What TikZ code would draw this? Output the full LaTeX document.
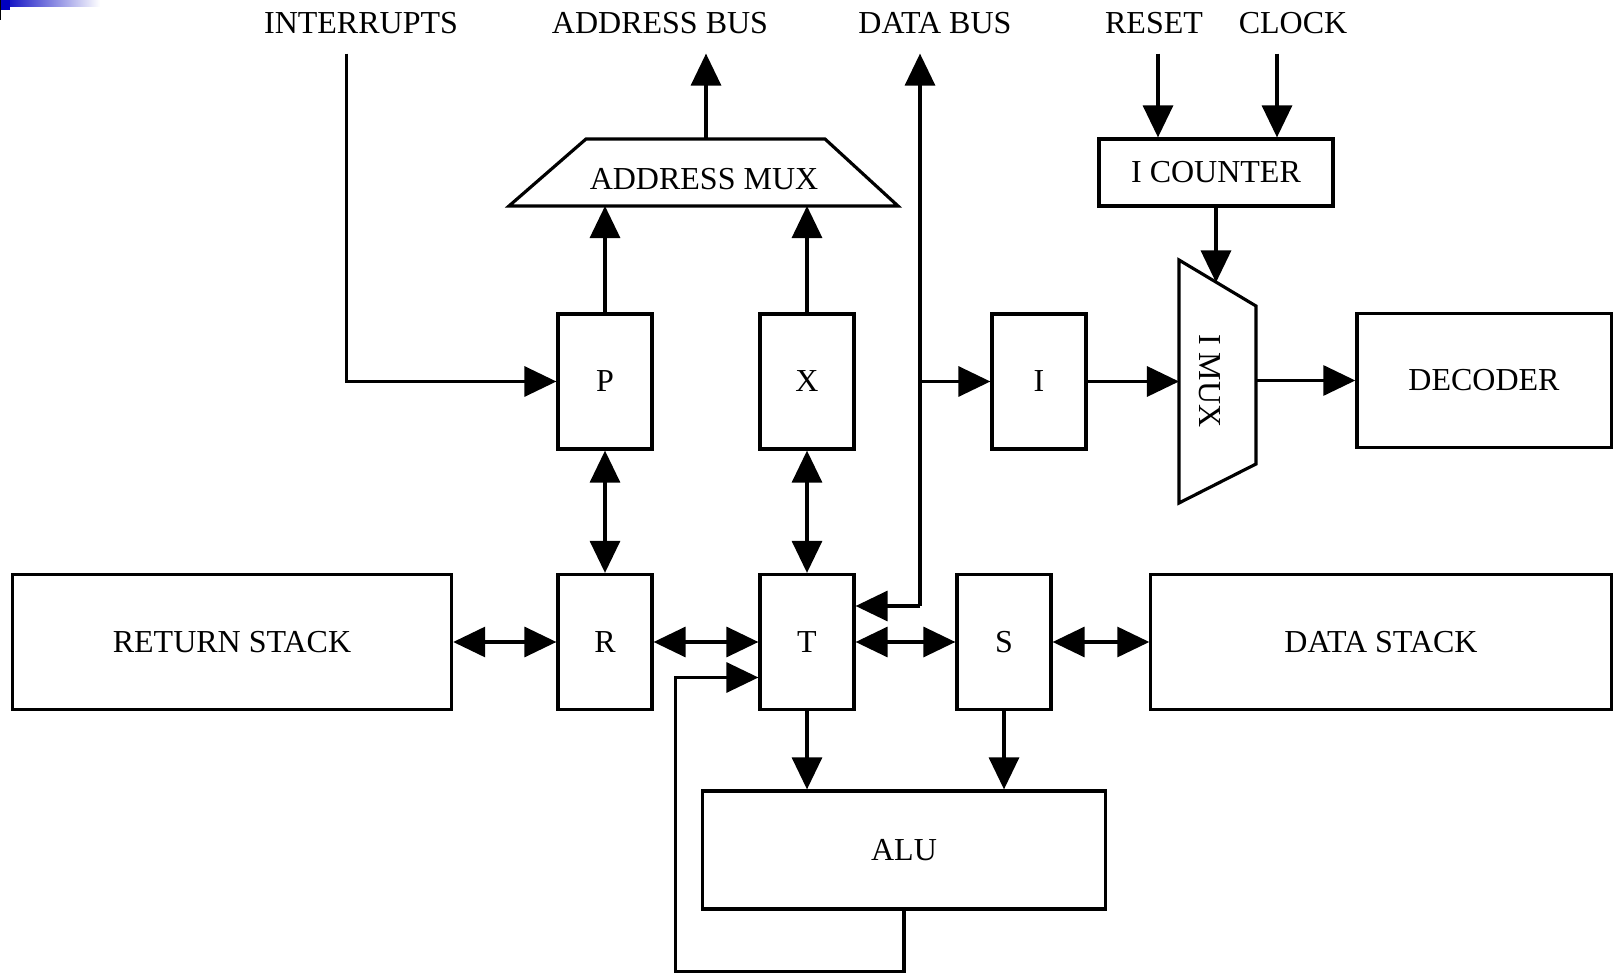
\documentclass[tikz,border=0pt]{standalone}
\usepackage{fontspec}
\setmainfont{Liberation Serif}
\usetikzlibrary{arrows.meta,calc}

\begin{document}
\begin{tikzpicture}[x=0.01cm,y=-0.01cm,line width=0.9pt,
  box/.style={draw,inner sep=0pt,minimum width=0.94cm,minimum height=1.35cm,font=\fontsize{9.1}{11}\selectfont},
  lbl/.style={inner sep=0pt,font=\fontsize{9.1}{11}\selectfont},
  arr/.style={-{Triangle[length=0.32cm,width=0.3cm]}},
  arrs/.style={{Triangle[length=0.32cm,width=0.3cm]}-{Triangle[length=0.32cm,width=0.3cm]}}]
\useasboundingbox (0,0) rectangle (1617,973);
% corner mark
\shade[left color=blue!75!black,right color=white] (0,0) rectangle (100,7);
\fill[blue!75!black] (0,0) rectangle (10,10);
\fill[black] (0,0) rectangle (1.5,20);

% top labels
\node[lbl] (intrl) at (361,23) {INTERRUPTS};
\node[lbl] (abusl) at (660,23) {ADDRESS BUS};
\node[lbl] (dbusl) at (935,23) {DATA BUS};
\node[lbl] (rstl) at (1154,23) {RESET};
\node[lbl] (clkl) at (1293,23) {CLOCK};
\coordinate (intr) at (346.5,53.6);
\coordinate (abus) at (706,53.6);
\coordinate (dbus) at (920,53.6);
\coordinate (rst) at (1158,53.6);
\coordinate (clk) at (1277,53.6);

% registers
\node[box] (p) at (605,381.5) {P};
\node[box] (x) at (807,381.5) {X};
\node[box] (i) at (1039,381.5) {I};
\node[box] (r) at (605,642) {R};
\node[box] (t) at (807,642) {T};
\node[box] (s) at (1004,642) {S};
\node[box,minimum width=4.39cm] (rs) at (232,642) {RETURN STACK};
\node[box,minimum width=4.6cm] (ds) at (1381,642) {DATA STACK};
\node[box,minimum width=2.54cm,minimum height=1.34cm] (dec) at (1484,380.5) {DECODER};
\node[box,minimum width=4.03cm,minimum height=1.18cm] (alu) at (904,850) {ALU};
\node[box,minimum width=2.34cm,minimum height=0.67cm] (ictr) at (1216,172.5) {I COUNTER};

% address mux
\coordinate (a1) at (509,206);
\coordinate (a2) at (898,206);
\coordinate (a3) at (825,139);
\coordinate (a4) at (586,139);
\draw (a1) -- (a2) -- (a3) -- (a4) -- cycle;
\node[lbl] (amux) at (704,179) {ADDRESS MUX};
\coordinate (amuxout) at (706,139);

% i mux
\coordinate (m1) at (1179,260);
\coordinate (m2) at (1256,306);
\coordinate (m3) at (1256,464);
\coordinate (m4) at (1179,503);
\draw (m1) -- (m2) -- (m3) -- (m4) -- cycle;
\node[lbl,rotate=-90] (imux) at (1210,381) {I MUX};
\coordinate (imuxin) at (1216,282.5);

% connectors
\draw[arr] (intr) |- (p);
\draw[arr] (amuxout) -- (abus);
\draw[arr] (p) -- (p.north |- a1);
\draw[arr] (x) -- (x.north |- a1);
\coordinate (dbt) at (920,606);
\draw[arr] (dbt) -- (dbus);
\draw[arr] (dbt) -- (t.east |- dbt);
\draw[arr] (dbus |- i) -- (i);
\draw[arr] (rst) -- (rst |- ictr.north);
\draw[arr] (clk) -- (clk |- ictr.north);
\draw[arr] (ictr) -- (imuxin);
\draw[arr] (i) -- (i -| m1);
\draw[arr] (m2 |- dec) -- (dec);
\draw[arrs] (p) -- (r);
\draw[arrs] (x) -- (t);
\draw[arrs] (rs) -- (r);
\draw[arrs] (r) -- (t);
\draw[arrs] (t) -- (s);
\draw[arrs] (s) -- (ds);
\draw[arr] (t) -- (t |- alu.north);
\draw[arr] (s) -- (s |- alu.north);
\coordinate (lp) at (675.5,971.5);
\draw[arr] (alu.south) |- (lp) |- ($(t.west)+(0,35.5)$);
\end{tikzpicture}
\end{document}
